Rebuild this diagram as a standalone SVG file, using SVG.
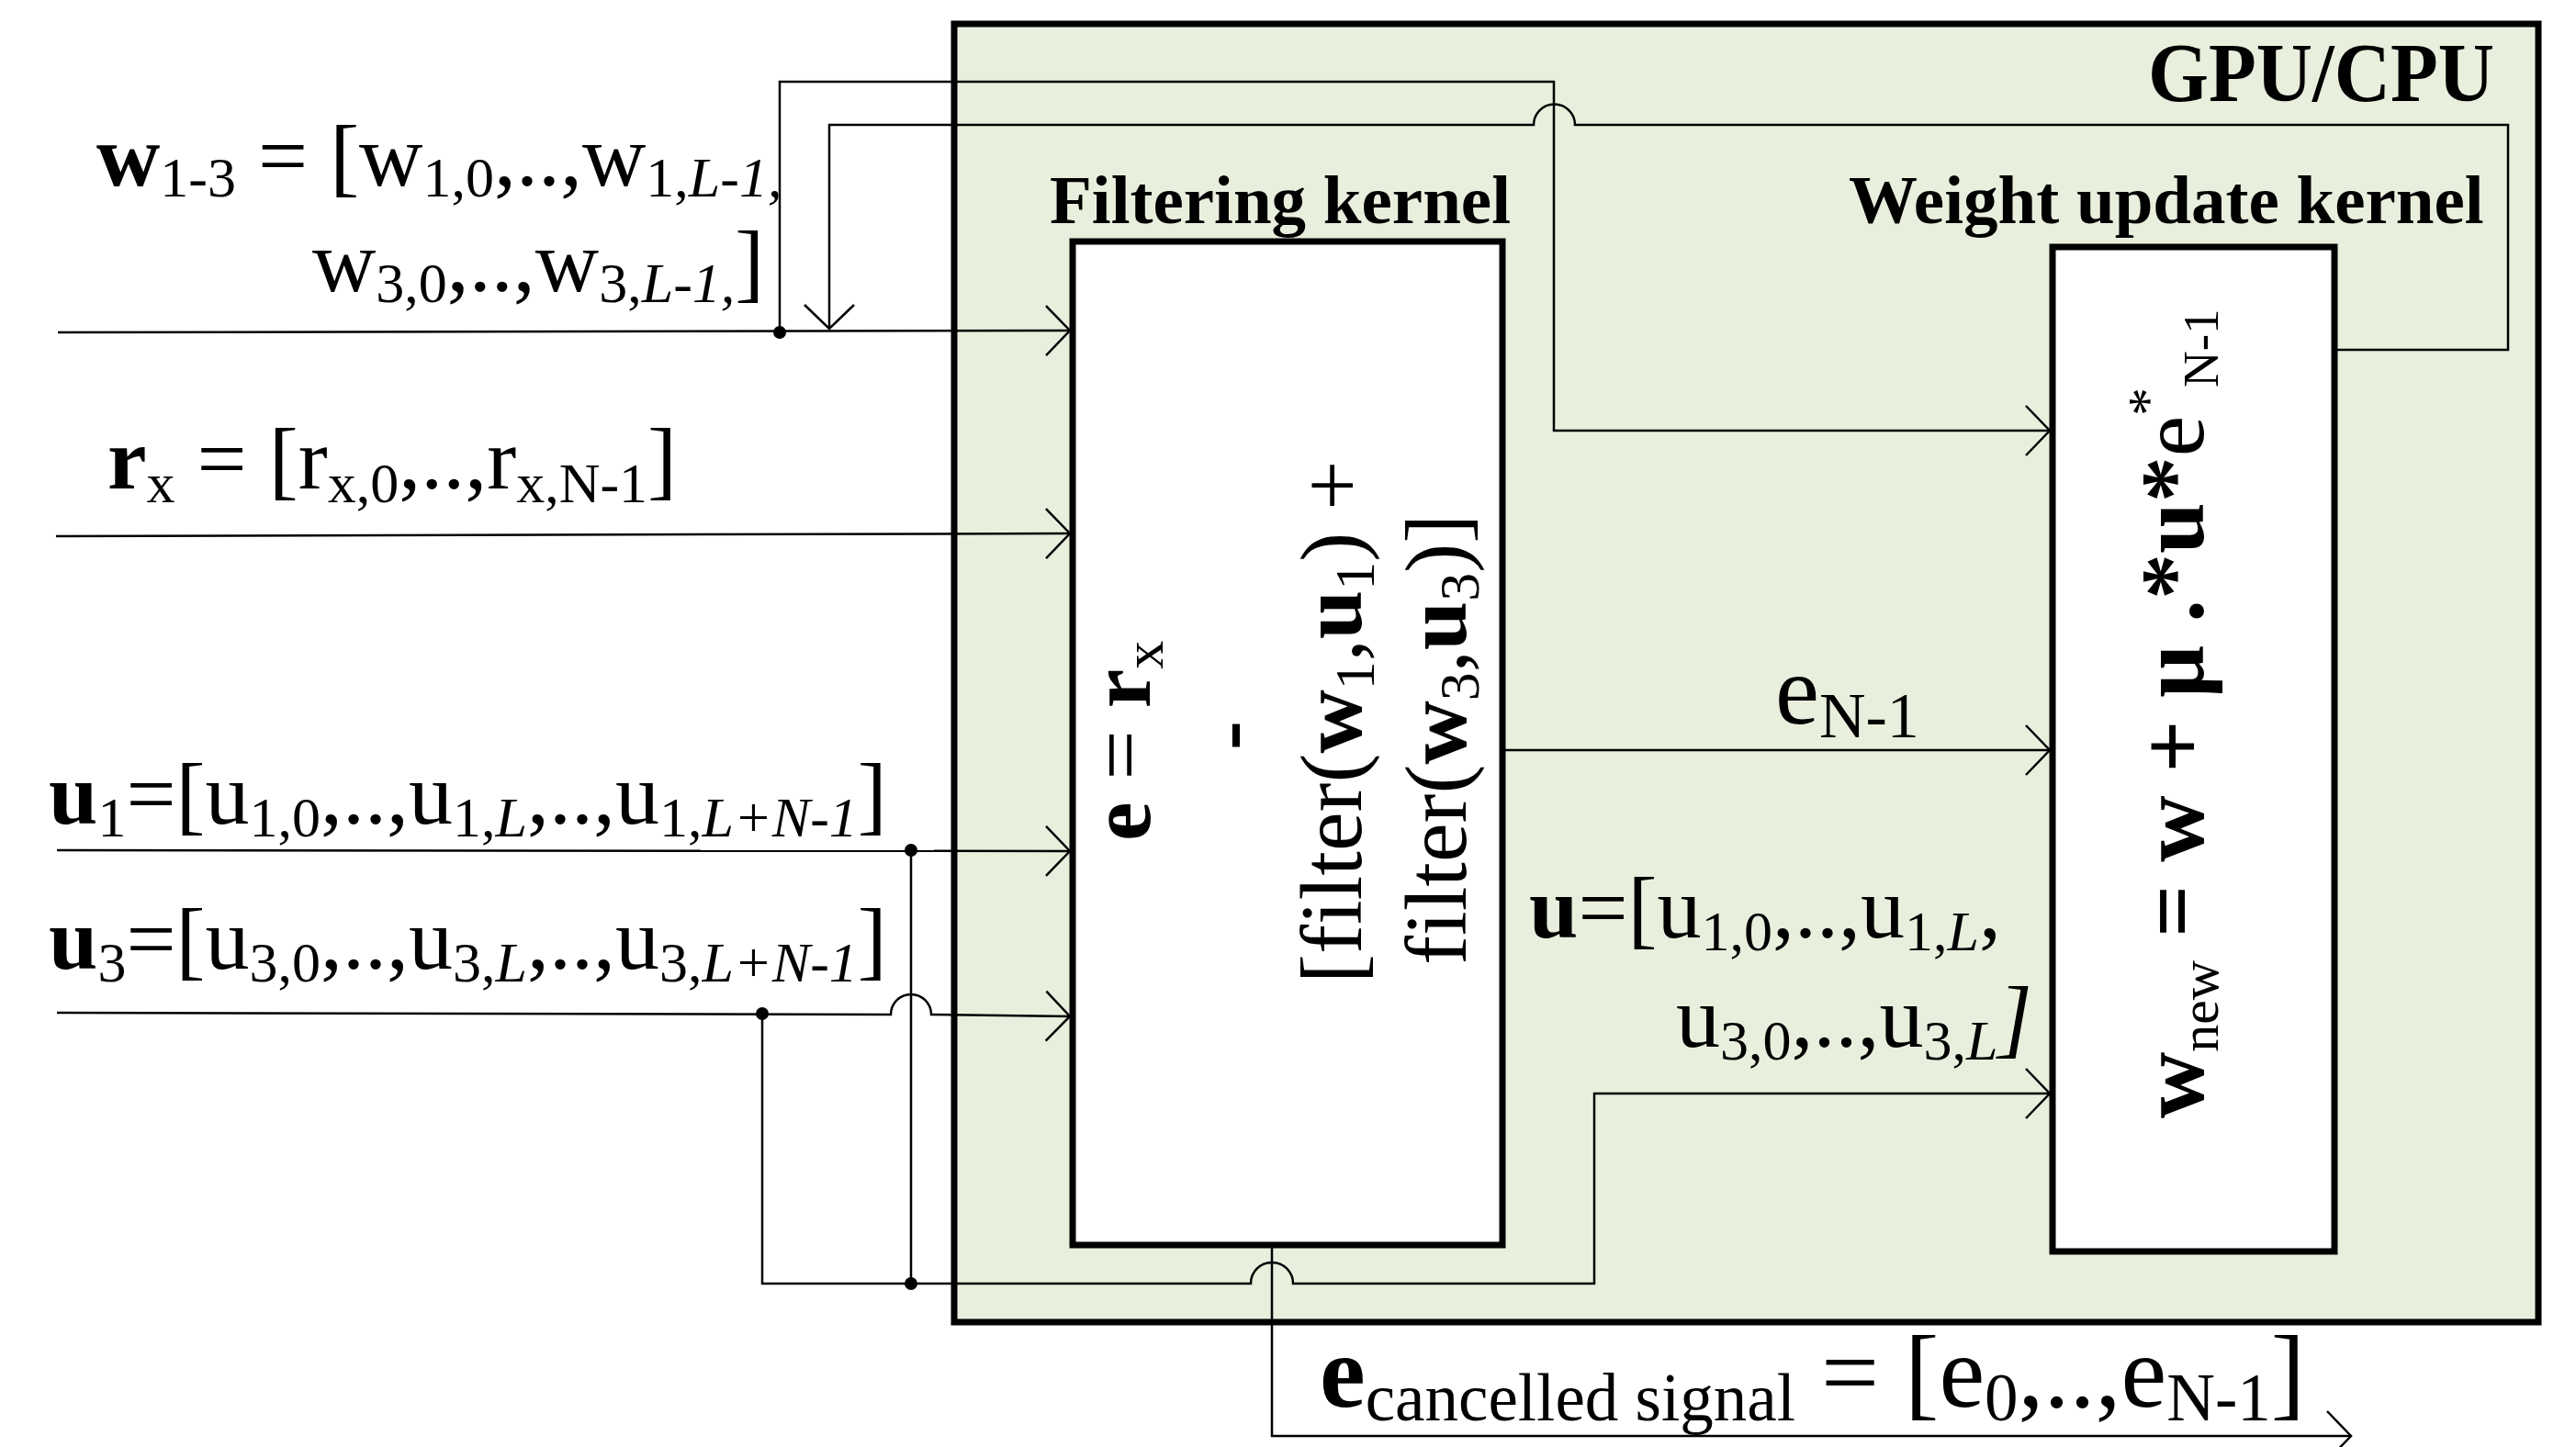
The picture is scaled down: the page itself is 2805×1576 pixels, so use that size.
<svg xmlns="http://www.w3.org/2000/svg" width="2805" height="1576" viewBox="0 0 2805 1576">
<style>
.t{font-family:"Liberation Serif","Times New Roman",serif;fill:#000}
.b{font-weight:bold}
.i{font-style:italic}
.ln{fill:none;stroke:#000;stroke-width:2.5}
.box{stroke:#000;stroke-width:7}
.dot{fill:#000}
</style>
<defs>
<marker id="arr" markerUnits="userSpaceOnUse" markerWidth="60" markerHeight="60" viewBox="-30 -30 60 60" refX="0" refY="0" orient="auto" overflow="visible">
<path d="M-26,-27 L0,0 L-26,27" fill="none" stroke="#000" stroke-width="2.5"/>
</marker>
</defs>
<rect width="2805" height="1576" fill="#fff"/>

<g id="gpu-cpu">
<rect class="box" x="1039" y="26" width="1725" height="1414" fill="#e8efdd"/>
<text class="t b" x="2716" y="110" font-size="92" text-anchor="end" textLength="377" lengthAdjust="spacingAndGlyphs">GPU/CPU</text>
</g>

<g id="connectors">
<!-- w input -->
<path class="ln" d="M63,362 L1165,360" marker-end="url(#arr)"/>
<path class="ln" d="M849,362 L849,89 L1692,89 L1692,469 L2232,469" marker-end="url(#arr)"/>
<!-- feedback -->
<path class="ln" d="M2542,381 L2731,381 L2731,136 L1715,136 A22.5,22.5 0 0 0 1670,136 L903,136 L903,358" marker-end="url(#arr)"/>
<!-- rx -->
<path class="ln" d="M61,584 L1165,581" marker-end="url(#arr)"/>
<!-- u1 -->
<path class="ln" d="M62,926 L1165,927" marker-end="url(#arr)"/>
<path class="ln" d="M992,926 L992,1398"/>
<!-- u3 -->
<path class="ln" d="M62,1103 L970,1105 A22,22 0 0 1 1014,1105 L1165,1107" marker-end="url(#arr)"/>
<path class="ln" d="M830,1104 L830,1398 L1362,1398 A23,23 0 0 1 1408,1398 L1736,1398 L1736,1191 L2232,1191" marker-end="url(#arr)"/>
<!-- e N-1 -->
<path class="ln" d="M1636,817 L2232,817" marker-end="url(#arr)"/>
<!-- output -->
<path class="ln" d="M1385,1356 L1385,1564 L2560,1564" marker-end="url(#arr)"/>
<circle class="dot" cx="849" cy="362" r="7"/>
<circle class="dot" cx="992" cy="926" r="7"/>
<circle class="dot" cx="830" cy="1104" r="7"/>
<circle class="dot" cx="992" cy="1398" r="7"/>
</g>

<g id="filtering-kernel">
<text class="t b" x="1143" y="243" font-size="75">Filtering kernel</text>
<rect class="box" x="1168" y="263" width="468" height="1093" fill="#fff"/>
<text class="t" font-size="96" transform="translate(1252,916) rotate(-90)"><tspan class="b">e</tspan> = <tspan class="b">r</tspan><tspan font-size="62" dy="14">x</tspan></text>
<text class="t b" font-size="96" text-anchor="middle" transform="translate(1368,801) rotate(-90)">-</text>
<text class="t" font-size="96" transform="translate(1482,1071) rotate(-90)">[filter(<tspan class="b">w</tspan><tspan font-size="62" dy="14">1</tspan><tspan dy="-14">,</tspan><tspan class="b">u</tspan><tspan font-size="62" dy="14">1</tspan><tspan dy="-14">) +</tspan></text>
<text class="t" font-size="96" transform="translate(1596,1051) rotate(-90)">filter(<tspan class="b">w</tspan><tspan font-size="62" dy="14">3</tspan><tspan dy="-14">,</tspan><tspan class="b">u</tspan><tspan font-size="62" dy="14">3</tspan><tspan dy="-14">)]</tspan></text>
</g>

<g id="weight-update-kernel">
<text class="t b" x="2013" y="243" font-size="75">Weight update kernel</text>
<rect class="box" x="2235" y="269" width="307" height="1094" fill="#fff"/>
<text class="t" font-size="100" transform="translate(2399,1218) rotate(-90)"><tspan class="b">w</tspan><tspan font-size="60" dy="16">new</tspan><tspan class="b" dy="-16"> = w + μ .*u*</tspan><tspan>e</tspan><tspan font-size="62" dy="-40">*</tspan><tspan font-size="55" dy="56">N-1</tspan></text>
</g>

<g id="label-w">
<text class="t" x="105" y="202" font-size="96"><tspan class="b">w</tspan><tspan font-size="62" dy="12">1-3</tspan><tspan dy="-12"> = [w</tspan><tspan font-size="62" dy="12">1,0</tspan><tspan dy="-12">,..,w</tspan><tspan font-size="62" dy="12">1,<tspan class="i">L-1,</tspan></tspan></text>
<text class="t" x="340" y="317" font-size="96">w<tspan font-size="62" dy="12">3,0</tspan><tspan dy="-12">,..,w</tspan><tspan font-size="62" dy="12">3,<tspan class="i">L-1,</tspan></tspan><tspan dy="-12">]</tspan></text>
</g>

<g id="label-rx">
<text class="t" x="117" y="532" font-size="96"><tspan class="b">r</tspan><tspan font-size="62" dy="15">x</tspan><tspan dy="-15"> = [r</tspan><tspan font-size="62" dy="15">x,0</tspan><tspan dy="-15">,..,r</tspan><tspan font-size="62" dy="15">x,N-1</tspan><tspan dy="-15">]</tspan></text>
</g>

<g id="label-u1">
<text class="t" x="53" y="897" font-size="96"><tspan class="b">u</tspan><tspan font-size="62" dy="14">1</tspan><tspan dy="-14">=[u</tspan><tspan font-size="62" dy="14">1,0</tspan><tspan dy="-14">,..,u</tspan><tspan font-size="62" dy="14">1,<tspan class="i">L</tspan></tspan><tspan dy="-14">,..,u</tspan><tspan font-size="62" dy="14">1,<tspan class="i">L+N-1</tspan></tspan><tspan dy="-14">]</tspan></text>
</g>

<g id="label-u3">
<text class="t" x="53" y="1055" font-size="96"><tspan class="b">u</tspan><tspan font-size="62" dy="14">3</tspan><tspan dy="-14">=[u</tspan><tspan font-size="62" dy="14">3,0</tspan><tspan dy="-14">,..,u</tspan><tspan font-size="62" dy="14">3,<tspan class="i">L</tspan></tspan><tspan dy="-14">,..,u</tspan><tspan font-size="62" dy="14">3,<tspan class="i">L+N-1</tspan></tspan><tspan dy="-14">]</tspan></text>
</g>

<g id="label-eN1">
<text class="t" x="1933" y="788" font-size="108">e<tspan font-size="70" dy="15">N-1</tspan></text>
</g>

<g id="label-u">
<text class="t" x="1665" y="1021" font-size="96"><tspan class="b">u</tspan>=[u<tspan font-size="62" dy="14">1,0</tspan><tspan dy="-14">,..,u</tspan><tspan font-size="62" dy="14">1,<tspan class="i">L</tspan></tspan><tspan dy="-14">,</tspan></text>
<text class="t" x="1825" y="1140" font-size="96">u<tspan font-size="62" dy="14">3,0</tspan><tspan dy="-14">,..,u</tspan><tspan font-size="62" dy="14">3,<tspan class="i">L</tspan></tspan><tspan class="i" dy="-14">]</tspan></text>
</g>

<g id="label-ecancelled">
<text class="t" x="1437" y="1532" font-size="112"><tspan class="b">e</tspan><tspan font-size="73" dy="15">cancelled signal</tspan><tspan dy="-15"> = [e</tspan><tspan font-size="73" dy="15">0</tspan><tspan dy="-15">,..,e</tspan><tspan font-size="73" dy="15">N-1</tspan><tspan dy="-15">]</tspan></text>
</g>
</svg>
